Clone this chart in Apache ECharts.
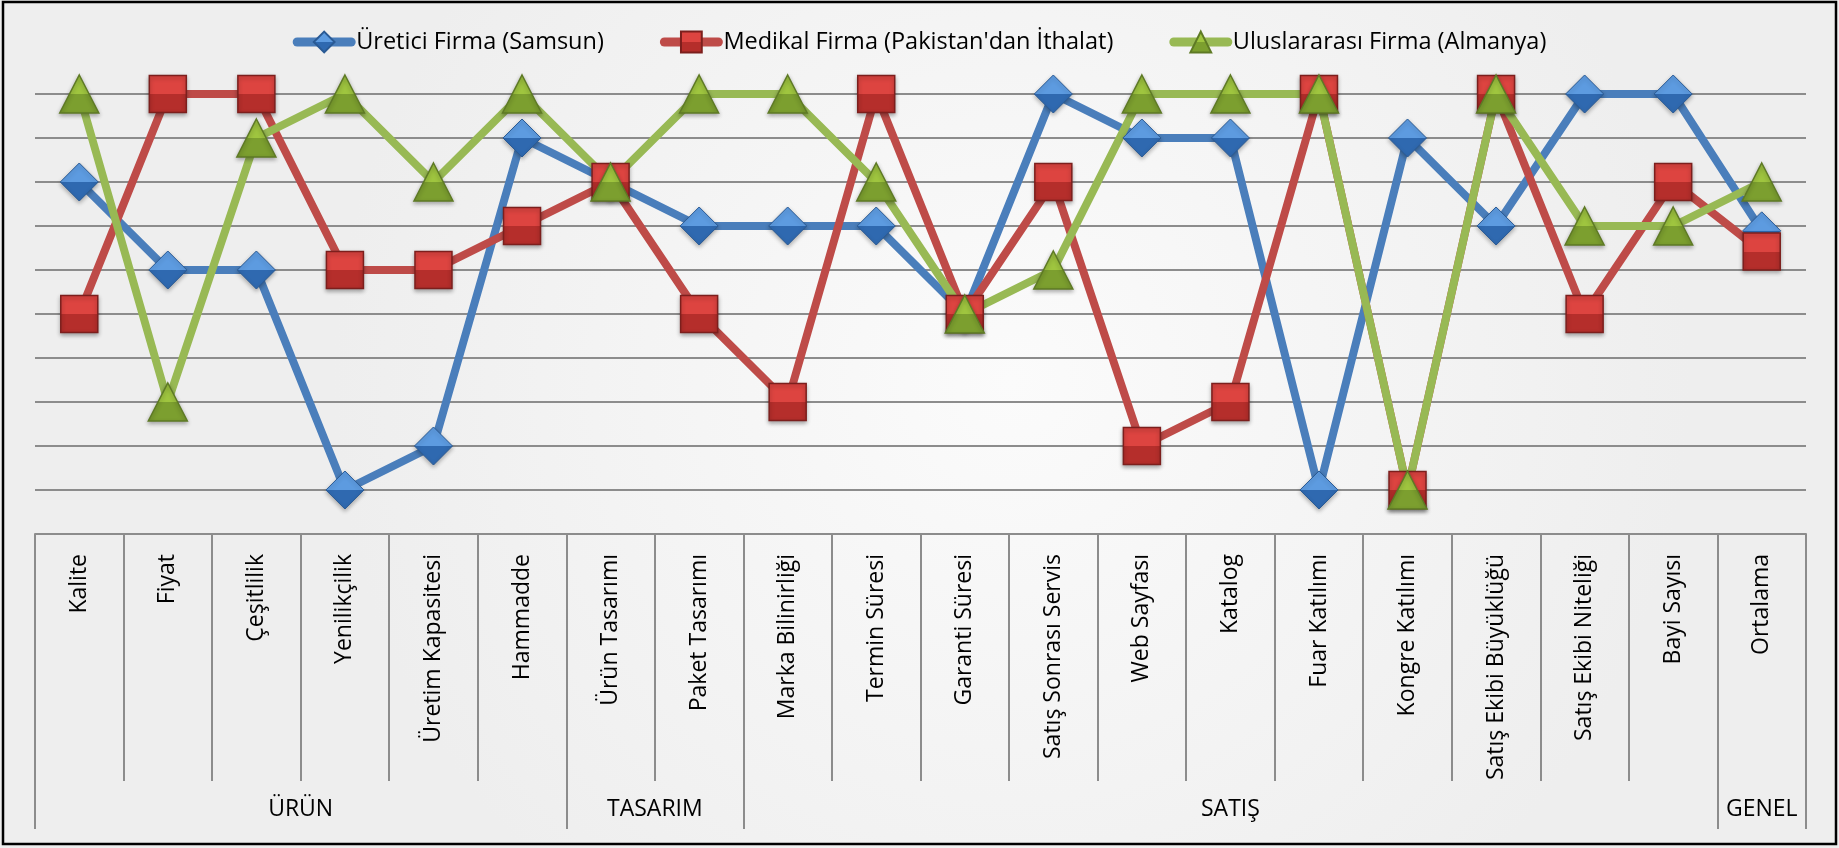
<!DOCTYPE html>
<html>
<head>
<meta charset="utf-8">
<script src="https://cdn.jsdelivr.net/npm/echarts@6/dist/echarts.min.js"></script>
<style>
html,body{margin:0;padding:0;background:#fff;}
#c{width:1839px;height:848px;}
</style>
</head>
<body>
<div id="c"></div>
<script>
const categories = ['Kalite','Fiyat','Çeşitlilik','Yenilikçilik','Üretim Kapasitesi','Hammadde','Ürün Tasarımı','Paket Tasarımı','Marka Bilinirliği','Termin Süresi','Garanti Süresi','Satış Sonrası Servis','Web Sayfası','Katalog','Fuar Katılımı','Kongre Katılımı','Satış Ekibi Büyüklüğü','Satış Ekibi Niteliği','Bayi Sayısı','Ortalama'];
const groupNames = ['ÜRÜN','TASARIM','SATIŞ','GENEL'];
const groupCounts = [6, 2, 11, 1];
const seriesNames = ['Üretici Firma (Samsun)', "Medikal Firma (Pakistan'dan İthalat)", 'Uluslararası Firma (Almanya)'];
const samsun  = [8,6,6,1,2,9,8,7,7,7,5,10,9,9,1,9,7,10,10,6.89];
const medikal = [5,10,10,6,6,7,8,5,3,10,5,8,2,3,10,1,10,5,8,6.42];
const almanya = [10,3,9,10,8,10,8,10,10,8,5,6,10,10,10,1,10,7,7,8.0];
const yTicks = [0,1,2,3,4,5,6,7,8,9,10];

const FONT = '"Open Sans", "Noto Sans", sans-serif';
const GRID_COLOR = '#8c8c8c';

// group boundaries and centres derived from counts
const bounds = [0];
groupCounts.forEach(c => bounds.push(bounds[bounds.length-1] + c));
const centres = groupCounts.map((c,i) => bounds[i] + c/2);
const centreName = {};
centres.forEach((v,i) => centreName[String(v)] = groupNames[i]);

function grad(top, bottom){
  return new echarts.graphic.LinearGradient(0,0,0,1,[{offset:0,color:top},{offset:0.5,color:top},{offset:0.51,color:bottom},{offset:1,color:bottom}]);
}

const chart = echarts.init(document.getElementById('c'), null, {renderer:'canvas'});
chart.setOption({
  animation:false,
  backgroundColor: new echarts.graphic.RadialGradient(0.55,0.45,0.8,[{offset:0,color:'#fbfbfb'},{offset:1,color:'#eeeeee'}]),
  textStyle:{fontFamily:FONT},
  graphic:[{type:'rect',shape:{x:3,y:2,width:1833,height:842},style:{fill:'none',stroke:'#000',lineWidth:2.5},silent:true,z:100}],
  legend:{
    top:25, left:'center', itemGap:56, itemWidth:54, itemHeight:26,
    textStyle:{fontSize:23.5,color:'#000',fontFamily:FONT},
    lineStyle:{width:9,cap:'round'},
    data:seriesNames
  },
  grid:{left:35,right:33,top:94,bottom:314,containLabel:false},
  xAxis:[{
    type:'category', data:categories, boundaryGap:true,
    axisLine:{show:true,lineStyle:{color:GRID_COLOR,width:2}},
    axisTick:{show:true,interval:0,length:247,lineStyle:{color:GRID_COLOR,width:2}},
    axisLabel:{interval:0,rotate:90,margin:20,fontSize:23,color:'#000',fontFamily:FONT},
    splitLine:{show:false}
  },{
    type:'value', min:0, max:bounds[bounds.length-1], position:'bottom',
    axisLine:{show:false},
    splitLine:{show:false},
    axisTick:{show:true,customValues:bounds,length:295,lineStyle:{color:GRID_COLOR,width:2}},
    axisLabel:{show:true,customValues:centres,margin:264,fontSize:23,color:'#000',fontFamily:FONT,
      formatter:v => centreName[String(v)] || ''}
  }],
  yAxis:{
    type:'value', min:yTicks[0], max:yTicks[yTicks.length-1], interval:1,
    axisLabel:{show:false}, axisLine:{show:false}, axisTick:{show:false},
    splitLine:{show:true,lineStyle:{color:GRID_COLOR,width:2}}
  },
  series:[{
    name:seriesNames[0], type:'line', data:samsun,
    symbol:'diamond', symbolSize:[38,38],
    lineStyle:{color:'#4a7ebb',width:8,join:'round'},
    itemStyle:{color:grad('#5d9be0','#2f69b0'),borderColor:'#2a5a94',borderWidth:1,shadowColor:'rgba(0,0,0,0.3)',shadowBlur:4,shadowOffsetY:2}
  },{
    name:seriesNames[1], type:'line', data:medikal,
    symbol:'rect', symbolSize:[37,37],
    lineStyle:{color:'#be4b48',width:8,join:'round'},
    itemStyle:{color:grad('#dd4440','#b52e2b'),borderColor:'#7c1f1d',borderWidth:1.5,shadowColor:'rgba(0,0,0,0.3)',shadowBlur:4,shadowOffsetY:2}
  },{
    name:seriesNames[2], type:'line', data:almanya,
    symbol:'triangle', symbolSize:[39,38],
    lineStyle:{color:'#98b954',width:8,join:'round'},
    itemStyle:{color:grad('#9fc53f','#7c9f2f'),borderColor:'#5e7a25',borderWidth:1.5,shadowColor:'rgba(0,0,0,0.3)',shadowBlur:4,shadowOffsetY:2}
  }]
});
</script>
</body>
</html>
